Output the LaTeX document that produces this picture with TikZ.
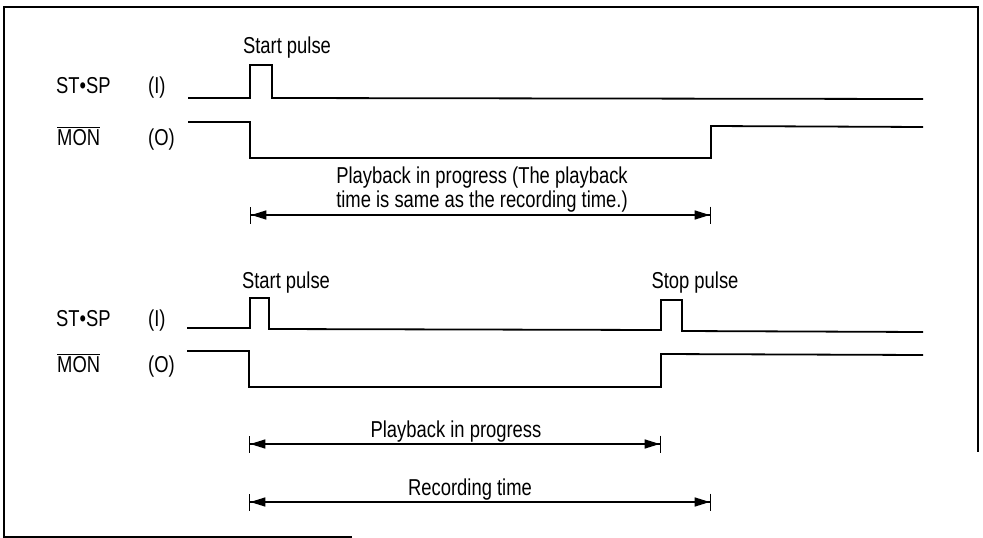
\documentclass[tikz,border=0pt]{standalone}
\usepackage{fontspec}
\setmainfont{Liberation Sans}[FakeStretch=0.8]
\usetikzlibrary{arrows.meta}

\begin{document}
\begin{tikzpicture}[x=1pt, y=-1pt,
    signal/.style={line width=1.8pt, line join=miter},
    frameline/.style={line width=1.4pt},
    lbl/.style={anchor=base, inner sep=0pt, font=\fontsize{23}{24}\selectfont},
    sig/.style={lbl, anchor=base west},
    span/.style={line width=1.3pt, {Bar[width=17pt,line width=1.3pt]Triangle[length=15pt,width=9pt]}-{Triangle[length=15pt,width=9pt]Bar[width=17pt,line width=1.3pt]}}
]
\useasboundingbox (0,0) rectangle (983,538);
% frame
\draw[frameline] (352,537) -- (4,537) -- (4,7) -- (978,7) -- (978,452);

% --- first sequence: playback runs to its end
\node[sig] (stsp1) at (56,93) {ST•SP};
\node[sig] (in1) at (148,93) {(I)};
\node[sig] (mon1) at (57,145) {$\overline{\hbox{MON}}$};
\node[sig] (out1) at (148,145) {(O)};
\node[lbl] (start1) at (287,53) {Start pulse};
\draw[signal] (188,98) -- (250,98) -- (250,65) -- (272,65) -- (272,98) -- (923,99);
\draw[signal] (188,122) -- (250,122) -- (250,158) -- (711,158) -- (711,126) -- (923,127);
\coordinate (pb1a) at (250,215);
\coordinate (pb1b) at (711,215);
\node[lbl, align=center] (pb1) at (482,207) {Playback in progress (The playback\\time is same as the recording time.)};
\draw[span] (pb1a) -- (pb1b);

% --- second sequence: stopped by a stop pulse
\node[sig] (stsp2) at (56,326) {ST•SP};
\node[sig] (in2) at (148,326) {(I)};
\node[sig] (mon2) at (57,372) {$\overline{\hbox{MON}}$};
\node[sig] (out2) at (148,372) {(O)};
\node[lbl] (start2) at (286,288) {Start pulse};
\node[lbl] (stop2) at (695,288) {Stop pulse};
\draw[signal] (187,328) -- (250,328) -- (250,298) -- (269,298) -- (269,329) -- (661,330) -- (661,300) -- (682,300) -- (682,331) -- (923,332);
\draw[signal] (187,351) -- (249,351) -- (249,387) -- (661,387) -- (661,354) -- (923,355);
\coordinate (pb2a) at (249,444);
\coordinate (pb2b) at (661,444);
\coordinate (rec2a) at (249,502);
\coordinate (rec2b) at (711,502);
\node[lbl] (pb2) at (456,437) {Playback in progress};
\node[lbl] (rec2) at (470,495) {Recording time};
\draw[span] (pb2a) -- (pb2b);
\draw[span] (rec2a) -- (rec2b);
\end{tikzpicture}
\end{document}
